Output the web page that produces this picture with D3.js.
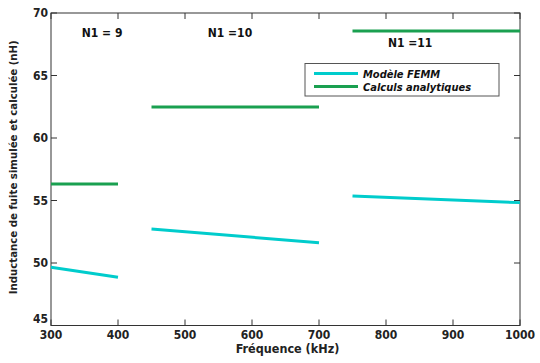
<!DOCTYPE html>
<html>
<head>
<meta charset="utf-8">
<script src="https://cdn.jsdelivr.net/npm/d3@7"></script>
<style>
body { margin:0; background:#fff; }
text { font-family:"DejaVu Sans Condensed","DejaVu Sans",sans-serif; font-weight:bold; }
</style>
</head>
<body>
<div id="chart"></div>
<script>
// data (kHz, nH)
var freqN9 = [300, 400];
var freqN10 = [450, 700];
var freqN11 = [750, 1000];
var femmN9 = [49.66, 48.86];
var femmN10 = [52.72, 51.62];
var femmN11 = [55.36, 54.83];
var analN9 = [56.32, 56.32];
var analN10 = [62.48, 62.48];
var analN11 = [68.56, 68.56];
var xTicks = [300, 400, 500, 600, 700, 800, 900, 1000];
var yTicks = [45, 50, 55, 60, 65, 70];
var labels = ["N1 = 9", "N1 =10", "N1 =11"];
var labelPos = [[346, 68.1], [534, 68.1], [803, 67.3]];
var legendNames = ["Modèle FEMM", "Calculs analytiques"];

var cyan = "#00cccc", green = "#1aa050";

var viewboxwidth = 540, viewboxheight = 363;
var margin = {top:13, bottom:37.5, left:51, right:20};
var width = viewboxwidth - margin.left - margin.right;
var height = viewboxheight - margin.top - margin.bottom;

var svg = d3.select("#chart").append("svg")
    .attr("width", viewboxwidth)
    .attr("height", viewboxheight)

var g = svg.append("g")
    .attr("transform", "translate(" + margin.left + "," + margin.top + ")");

var x = d3.scaleLinear().domain([300, 1000]).range([0, width]);
var y = d3.scaleLinear().domain([45, 70]).range([height, 0]);

// frame
g.append("rect")
    .attr("width", width).attr("height", height)
    .attr("fill", "none").attr("stroke", "#333").attr("stroke-width", 1);

// ticks on all four sides, inward
var tl = 6;
g.selectAll(".xtb").data(xTicks).enter().append("line")
    .attr("x1", x).attr("x2", x).attr("y1", height).attr("y2", height - tl)
    .attr("stroke", "#333");
g.selectAll(".xtt").data(xTicks).enter().append("line")
    .attr("x1", x).attr("x2", x).attr("y1", 0).attr("y2", tl)
    .attr("stroke", "#333");
g.selectAll(".ytl").data(yTicks).enter().append("line")
    .attr("y1", y).attr("y2", y).attr("x1", 0).attr("x2", tl)
    .attr("stroke", "#333");
g.selectAll(".ytr").data(yTicks).enter().append("line")
    .attr("y1", y).attr("y2", y).attr("x1", width).attr("x2", width - tl)
    .attr("stroke", "#333");

g.selectAll(".xl").data(xTicks).enter().append("text")
    .attr("x", x).attr("y", height + 13)
    .attr("text-anchor", "middle").attr("font-size", 12).attr("fill", "#222")
    .text(function(d){ return d; });
g.selectAll(".yl").data(yTicks).enter().append("text")
    .attr("x", -3).attr("y", function(d){ return y(d) - (d == 45 ? 3 : -4); })
    .attr("text-anchor", "end").attr("font-size", 12).attr("fill", "#222")
    .text(function(d){ return d; });

g.append("text")
    .attr("x", width / 2 + 2).attr("y", height + 27)
    .attr("text-anchor", "middle").attr("font-size", 12.5).attr("fill", "#222")
    .text("Fréquence (kHz)");
g.append("text")
    .attr("transform", "translate(" + (-34) + "," + (height / 2 - 2) + ") rotate(-90)")
    .attr("text-anchor", "middle").attr("font-size", 11.3).attr("fill", "#222")
    .text("Inductance de fuite simulée et calculée (nH)");

// series
var line = d3.line().x(function(d){ return x(d[0]); }).y(function(d){ return y(d[1]); });
var series = [
    [freqN9, femmN9, cyan], [freqN10, femmN10, cyan], [freqN11, femmN11, cyan],
    [freqN9, analN9, green], [freqN10, analN10, green], [freqN11, analN11, green]
];
series.forEach(function(s){
    g.append("path")
        .datum(d3.zip(s[0], s[1]))
        .attr("d", line)
        .attr("fill", "none").attr("stroke", s[2]).attr("stroke-width", 3);
});

// N1 annotations
g.selectAll(".ann").data(labels).enter().append("text")
    .attr("x", function(d, i){ return x(labelPos[i][0]); })
    .attr("y", function(d, i){ return y(labelPos[i][1]); })
    .attr("font-size", 12).attr("fill", "#111")
    .text(function(d){ return d; });

// legend
var leg = svg.append("g").attr("transform", "translate(305,63.5)");
leg.append("rect").attr("width", 194).attr("height", 32.5)
    .attr("fill", "#fff").attr("stroke", "#555").attr("stroke-width", 1);
[cyan, green].forEach(function(c, i){
    leg.append("line").attr("x1", 9).attr("x2", 53)
        .attr("y1", 10 + i * 13).attr("y2", 10 + i * 13)
        .attr("stroke", c).attr("stroke-width", 3);
    leg.append("text").attr("x", 58).attr("y", 14 + i * 13)
        .attr("font-size", 11).attr("font-style", "italic").attr("fill", "#111")
        .text(legendNames[i]);
});
</script>
</body>
</html>
